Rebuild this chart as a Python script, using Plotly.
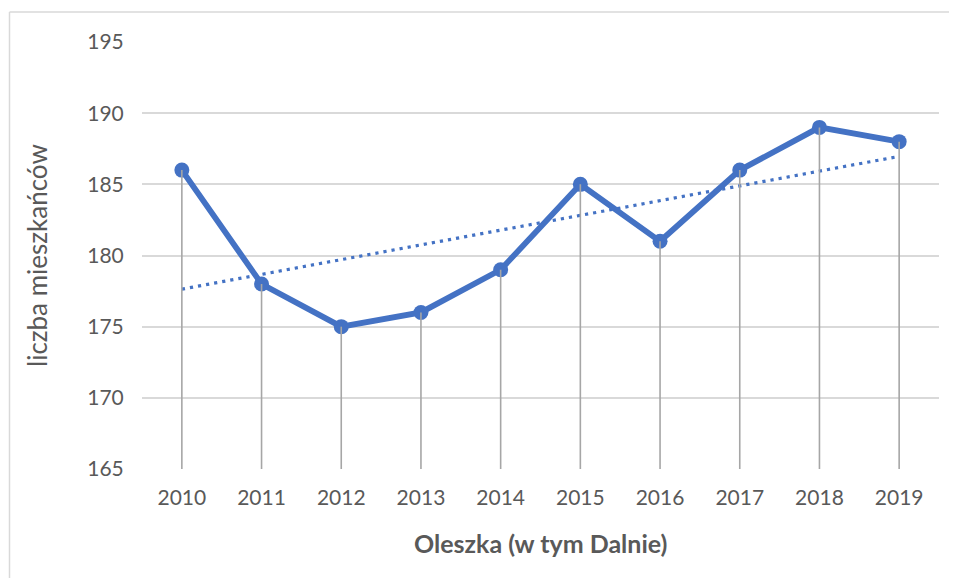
import numpy as np
import plotly.graph_objects as go

years = [2010, 2011, 2012, 2013, 2014, 2015, 2016, 2017, 2018, 2019]
residents = [186, 178, 175, 176, 179, 185, 181, 186, 189, 188]
y_ticks = [165, 170, 175, 180, 185, 190, 195]
x_title = "Oleszka (w tym Dalnie)"
y_title = "liczba mieszkańców"

BLUE = "#4472C4"
GRID = "#d9d9d9"
DROP = "#a6a6a6"
TXT = "#595959"
FONT = "Lato, 'Open Sans', sans-serif"

idx = np.arange(len(years))
slope, intercept = np.polyfit(idx, residents, 1)
trend = slope * idx + intercept

cats = [str(y) for y in years]

fig = go.Figure()

fig.add_trace(go.Scatter(
    x=cats, y=trend, mode="lines",
    line=dict(color=BLUE, width=3.2, dash="3.2px,5px"),
    hoverinfo="skip", showlegend=False,
))
fig.add_trace(go.Scatter(
    x=cats, y=residents, mode="lines+markers",
    line=dict(color=BLUE, width=5.8),
    marker=dict(color=BLUE, size=15),
    showlegend=False,
))
# drop lines
dx, dy = [], []
for c, v in zip(cats, residents):
    dx += [c, c, None]
    dy += [y_ticks[0], v, None]
fig.add_trace(go.Scatter(
    x=dx, y=dy, mode="lines",
    line=dict(color=DROP, width=1.6),
    hoverinfo="skip", showlegend=False,
))

# page body adds an 8px offset; work in page coordinates
OFF = 8
W, H = 957 - OFF, 578 - OFF
L, T = 142 - OFF, 42 - OFF
R = W - (939 - OFF)
B = H - (469 - OFF)
pw, ph = W - L - R, H - T - B

def px_x(x):
    return (x - OFF - L) / pw

def px_y(y):
    return (H - B - (y - OFF)) / ph

fig.update_layout(
    width=W, height=H,
    margin=dict(l=L, r=R, t=T, b=B, pad=0),
    paper_bgcolor="white", plot_bgcolor="white",
    font=dict(family=FONT, color=TXT, size=21),
    xaxis=dict(
        type="category", showgrid=False, zeroline=False,
        showline=False,
        ticks="outside", ticklen=10, tickcolor="rgba(0,0,0,0)",
        tickfont=dict(size=21, color=TXT, family=FONT),
        range=[-0.5, len(years) - 0.5],
        fixedrange=True,
    ),
    yaxis=dict(
        range=[y_ticks[0], y_ticks[-1]], tickvals=y_ticks,
        showgrid=True, gridcolor=GRID, gridwidth=1.6,
        zeroline=False, showline=False,
        ticks="outside", ticklen=13, tickcolor="rgba(0,0,0,0)",
        tickfont=dict(size=21, color=TXT, family=FONT),
        fixedrange=True,
    ),
    annotations=[
        dict(text=f"<b>{x_title}</b>", xref="paper", yref="paper",
             x=px_x(540), y=px_y(543), showarrow=False,
             font=dict(size=25, color=TXT, family=FONT),
             xanchor="center", yanchor="middle"),
        dict(text=y_title, xref="paper", yref="paper",
             x=px_x(37), y=px_y(256), showarrow=False, textangle=-90,
             font=dict(size=26, color=TXT, family=FONT),
             xanchor="center", yanchor="middle"),
    ],
    shapes=[
        dict(type="line", xref="paper", yref="paper",
             x0=px_x(9.5), x1=px_x(9.5), y0=px_y(12), y1=px_y(600),
             line=dict(color=GRID, width=1.5)),
        dict(type="line", xref="paper", yref="paper",
             x0=px_x(9.5), x1=px_x(980), y0=px_y(12), y1=px_y(12),
             line=dict(color=GRID, width=1.5)),
    ],
)

fig.write_html("out.html")
